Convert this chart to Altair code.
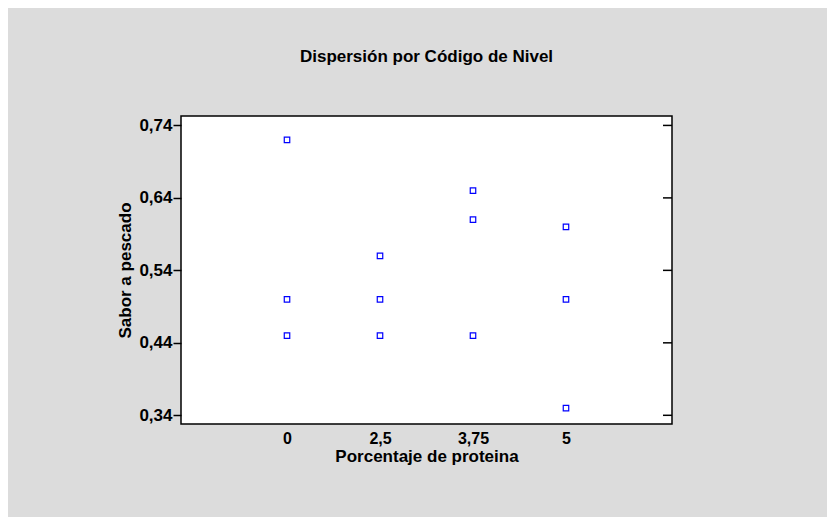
import altair as alt
import pandas as pd

categories = ["0", "2,5", "3,75", "5"]
nivel = ["0", "0", "0", "2,5", "2,5", "2,5", "3,75", "3,75", "3,75", "5", "5", "5"]
sabor = [0.72, 0.50, 0.45, 0.56, 0.50, 0.45, 0.65, 0.61, 0.45, 0.60, 0.50, 0.35]
y_ticks = [0.34, 0.44, 0.54, 0.64, 0.74]

df = pd.DataFrame({"nivel": nivel, "sabor": sabor})
df["idx"] = [categories.index(n) + 1 for n in nivel]
ticks_df = pd.DataFrame({"sabor": y_ticks})

FONT = "Liberation Sans"
W, H = 491, 308

yscale = alt.Scale(domain=[0.328, 0.753], nice=False, zero=False)
cat_js = "[" + ",".join("'" + c + "'" for c in categories) + "]"

points = alt.Chart(df).mark_point(
    shape="square", filled=False, color="#0000ff", size=30, strokeWidth=1.2, opacity=1
).encode(
    x=alt.X("idx:Q",
            scale=alt.Scale(domain=[-0.14, 5.14], nice=False, zero=False),
            axis=alt.Axis(title="Porcentaje de proteina", values=[1, 2, 3, 4],
                          labelExpr=cat_js + "[datum.value - 1]",
                          labelAngle=0, ticks=False, grid=False,
                          domain=False, labelPadding=6, titlePadding=2,
                          labelFont=FONT, labelFontSize=16, labelFontWeight="bold",
                          labelColor="black", titleFont=FONT, titleFontSize=17,
                          titleFontWeight="bold", titleColor="black")),
    y=alt.Y("sabor:Q", scale=yscale,
            axis=alt.Axis(title="Sabor a pescado", values=y_ticks,
                          labelExpr="replace(format(datum.value, '.2f'), '.', ',')",
                          grid=False, domain=False, ticks=True, tickSize=8,
                          tickWidth=1.5, tickColor="black", labelPadding=1,
                          labelFont=FONT, labelFontSize=17, labelFontWeight="bold",
                          labelColor="black", titleFont=FONT, titleFontSize=17,
                          titleFontWeight="bold", titleColor="black", titlePadding=4)),
)

right_ticks = alt.Chart(ticks_df).mark_rule(color="black", strokeWidth=1.5).encode(
    x=alt.value(W - 9), x2=alt.value(W),
    y=alt.Y("sabor:Q", scale=yscale),
)

chart = alt.layer(points, right_ticks).properties(
    width=W, height=H,
    autosize=alt.AutoSizeParams(type="none"),
    padding={"left": 173, "top": 108, "right": 155, "bottom": 93},
    background="#dcdcdc",
    title=alt.TitleParams("Dispersión por Código de Nivel", font=FONT, fontSize=17,
                          fontWeight="bold", color="black", anchor="middle",
                          baseline="middle", offset=42),
).configure_view(
    stroke="black", strokeWidth=1.5, fill="white"
)

chart.save("out.html", embed_options={"renderer": "svg", "actions": False})
